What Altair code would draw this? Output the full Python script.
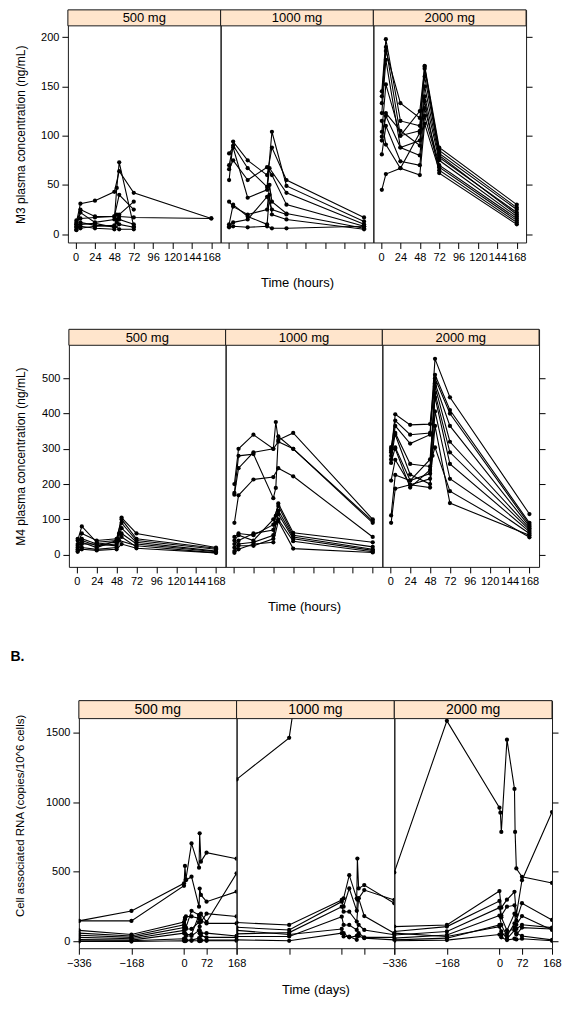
import altair as alt
import pandas as pd

FONT = "Liberation Sans"
INK = "#000000"
BOX = "#1a1a1a"
STRIP_FILL = "#FFE5CC"
DOSES = ["500 mg", "1000 mg", "2000 mg"]

# ---- time grids and ticks ----
PK_TIMES = [1, 6, 24, 48, 51, 54, 72, 168]
PK_TICKS = [0, 24, 48, 72, 96, 120, 144, 168]
RNA_TIMES = [-336, -168, 0, 3, 6, 24, 48, 50, 54, 72, 168]
RNA_TICKS = [-336, -168, 0, 72, 168]

M3_YTICKS = [0, 50, 100, 150, 200]
M4_YTICKS = [0, 100, 200, 300, 400, 500]
RNA_YTICKS = [0, 500, 1000, 1500]

# ---- M3 plasma concentration (ng/mL), one row per subject, on PK_TIMES ----
M3_500 = [
    [12, 31, 34, 43, None, 64, 42, 16],
    [8, 22, 12, 15, 47, 73, 8, None],
    [10, 25, 18, 18, None, 40, 25, None],
    [14, 16, 17, 18, 20, 18, 17, 16],
    [5, 8, 6, 5, None, 10, 7, None],
    [7, 12, 9, 8, 15, 20, 33, None],
    [10, 6, 8, 9, None, 5, 5, None],
    [4, 10, 11, 7, 12, 15, 10, None],
]
M3_1000 = [
    [55, 94, 75, 60, None, 88, 55, 17],
    [70, 90, 67, 48, None, 104, 49, 13],
    [82, 88, 37, 45, 67, None, 42, 10],
    [66, 75, 55, 68, None, 60, 30, 8],
    [33, 28, 20, 25, 50, 33, 21, 6],
    [10, 30, 18, 10, 40, 20, 15, 5],
    [8, 12, 15, 38, None, 25, 20, None],
    [7, 8, 7, 8, None, 6, 6, 8],
]
M3_2000 = [
    [145, 198, 115, 110, None, 171, 88, 30],
    [140, 190, 100, 105, None, 168, 85, 27],
    [133, 186, 133, 118, None, 160, 82, 25],
    [123, 177, 88, 95, None, 150, 78, 22],
    [104, 152, 100, 125, None, 170, 80, 20],
    [99, 123, 105, 90, None, 140, 75, 18],
    [95, 120, 88, 80, None, 128, 70, 16],
    [81, 110, 74, 70, None, 120, 68, 14],
    [115, 91, 67, 60, None, 112, 65, 12],
    [45, 61, 67, 103, None, 135, 62, 10],
]

# ---- M4 plasma concentration (ng/mL) ----
M4_500 = [
    [40, 80, 35, 40, None, 105, 60, 20],
    [30, 60, 40, 45, None, 100, 45, 18],
    [25, 45, 30, 35, 60, 90, 40, 15],
    [20, 40, 25, 30, None, 75, 35, 10],
    [15, 30, 30, 25, None, 60, 30, 8],
    [10, 20, 15, 20, 40, None, 25, 5],
    [8, 15, 12, 15, None, 30, 18, 5],
    [45, 35, 20, 40, None, 50, 22, None],
]
M4_1000 = [
    [200, 300, 340, 300, 376, 325, 345, 100],
    [175, 280, 285, 160, 189, 335, 300, 95],
    [170, 245, 290, 300, None, 320, 300, 90],
    [90, 168, 213, 220, None, 245, 222, 50],
    [50, 60, 55, 85, None, 145, 62, 35],
    [40, 55, 40, 100, None, 138, 55, 22],
    [30, 40, 60, 70, 110, 125, 50, 15],
    [20, 30, 35, 55, None, 115, 45, 12],
    [10, 25, 25, 45, 90, 100, 38, 8],
    [5, 15, 30, 35, None, 95, 17, 6],
]
M4_2000 = [
    [300, 380, 340, 345, None, 555, 446, 115],
    [290, 398, 368, 370, None, 510, 410, 90],
    [280, 365, 315, 340, None, 500, 400, 85],
    [270, 345, 257, 250, None, 486, 365, 80],
    [260, 304, 210, 230, None, 477, 320, 75],
    [210, 269, 198, 215, None, 458, 290, 70],
    [111, 226, 210, 270, None, 446, 257, 65],
    [90, 187, 198, 190, None, 406, 215, 60],
    [305, 340, 227, 200, None, 365, 146, 55],
    [295, 300, 190, 240, 280, 304, 180, 49],
]

# ---- Cell associated RNA (copies/10^6 cells), on RNA_TIMES ----
RNA_500 = [
    [148, 219, 418, None, 446, 704, 530, 776, 573, 637, 594],
    [148, 148, 400, 542, 440, 465, 250, 380, 334, 286, 358],
    [80, 50, 140, 170, 100, 220, 190, 170, 200, 140, 489],
    [60, 40, 120, 160, 180, 180, 167, 186, 140, 200, 180],
    [45, 30, 100, 110, 90, 90, 140, 107, 150, 130, 130],
    [30, 20, 80, 60, 50, 50, 190, 80, 60, 60, 40],
    [15, 10, 60, 20, 40, 40, 80, 59, 43, 30, 30],
    [5, 5, 20, 10, 10, 10, 24, 20, 10, 10, 10],
    [0, 0, 5, 2, 5, 5, 5, 3, 5, 5, 5],
]
RNA_1000 = [
    [1163, 1461, 4000, None, None, None, None, None, None, None, None],
    [136, 119, 298, None, 310, 476, 310, 595, 381, 405, 274],
    [102, 83, 286, None, 250, 381, 220, 300, 310, 369, 298],
    [55, 64, 250, None, 214, 214, 143, None, 310, 183, 60],
    [36, 36, 178, None, 119, 119, 83, None, 120, 83, 48],
    [12, 5, 60, None, 36, 36, 12, None, 40, 24, 12],
    [80, 50, 90, None, 60, 30, 40, None, 60, 30, 30],
]
RNA_2000 = [
    [496, 1583, 960, 924, 786, 1448, 1095, 786, 524, 464, 420],
    [107, 119, 362, None, 243, 300, 357, None, 190, 440, 929],
    [72, 107, 291, None, 186, 250, 260, None, 150, 275, 155],
    [47, 72, 243, None, 174, 80, 200, None, 120, 183, 83],
    [24, 47, 186, None, 119, 40, 130, None, 90, 120, 100],
    [12, 24, 119, None, 72, 20, 80, None, 60, 40, 12],
    [5, 10, 50, None, 30, 10, 20, None, 15, 20, 5],
    [60, 36, 107, None, 47, 60, 100, None, 50, 100, 90],
]


def to_frame(rows, times):
    recs = []
    for sid, row in enumerate(rows):
        for t, v in zip(times, row):
            if v is not None:
                recs.append({"subject": sid, "time": t, "value": v})
    return pd.DataFrame(recs)


def axis_common():
    return dict(domain=False, grid=False, tickSize=6, tickColor=INK, tickWidth=1,
                labelFont=FONT, labelFontSize=11, labelColor=INK, format="d",
                labelOverlap=False, labelFlush=False,
                titleFont=FONT, titleFontWeight="normal", titleColor=INK)


def panel(rows, times, dose, pos, spec):
    W, H, S = spec["w"], spec["h"], spec["strip"]
    df = to_frame(rows, times)
    c = axis_common()
    if pos == 0:
        xaxis = alt.Axis(values=spec["xticks"], labels=True, labelPadding=3, title="", **c)
        yaxis = alt.Axis(values=spec["yticks"], orient="left", labels=True, labelPadding=3,
                         title=spec["ytitle"], titleFontSize=spec["ytfs"],
                         titleX=spec["ytx"], titleY=spec["yty"], titleAngle=270,
                         titleBaseline="middle", titleAlign="center", **c)
    elif pos == 1:
        xaxis = alt.Axis(values=spec["xticks"], labels=False, title=spec["xtitle"],
                         titleFontSize=13, titleY=spec["xty"], titleBaseline="middle",
                         titleAlign="center", **c)
        yaxis = alt.Axis(values=spec["yticks"], labels=False, ticks=False, title="",
                         **{k: v for k, v in c.items() if k not in ("tickSize",)})
    else:
        xaxis = alt.Axis(values=spec["xticks"], labels=True, labelPadding=3, title="", **c)
        yaxis = alt.Axis(values=spec["yticks"], orient="right", labels=False, title="", **c)

    base = alt.Chart(df).encode(
        x=alt.X("time:Q", scale=alt.Scale(domain=spec["xdom"], nice=False, zero=False), axis=xaxis),
        y=alt.Y("value:Q", scale=alt.Scale(domain=spec["ydom"], nice=False, zero=False), axis=yaxis),
    )
    lines = base.mark_line(color=INK, strokeWidth=1.1, clip=True).encode(detail="subject:N")
    points = base.mark_circle(color=INK, size=18, opacity=1, clip=True)
    one = pd.DataFrame({"k": [0]})
    strip = alt.Chart(one).mark_rect(fill=STRIP_FILL, fillOpacity=1, opacity=1,
                                     stroke=BOX, strokeWidth=1).encode(
        x=alt.value(0), x2=alt.value(W), y=alt.value(0), y2=alt.value(S))
    label = alt.Chart(one).mark_text(font=FONT, fontSize=spec["sfs"], color=INK,
                                     baseline="middle", align="center").encode(
        x=alt.value(W / 2), y=alt.value(S / 2 + 0.5), text=alt.value(dose))
    return alt.layer(lines, points, strip, label).properties(width=W, height=H)


def spacer(w):
    return alt.Chart(pd.DataFrame({"k": [0]})).mark_point(opacity=0).encode(
        x=alt.value(0), y=alt.value(0)
    ).properties(width=w, height=10, view=alt.ViewBackground(stroke="transparent"))


M3_SPEC = dict(w=153, h=233, strip=16, xdom=[-9.5, 179.5], ydom=[-8.4, 227.7],
               xticks=PK_TICKS, yticks=M3_YTICKS, ytitle="M3 plasma concentration (ng/mL)",
               ytfs=12, ytx=-47, yty=124.6, xtitle="Time (hours)", xty=40, sfs=13)
M4_SPEC = dict(w=157, h=238, strip=16, xdom=[-9.6, 179.6], ydom=[-34.8, 638.8],
               xticks=PK_TICKS, yticks=M4_YTICKS, ytitle="M4 plasma concentration (ng/mL)",
               ytfs=12, ytx=-48, yty=127, xtitle="Time (hours)", xty=40, sfs=13)
RNA_SPEC = dict(w=158, h=248, strip=18, xdom=[-336, 168], ydom=[-48, 1728],
                xticks=RNA_TICKS, yticks=RNA_YTICKS,
                ytitle="Cell associated RNA (copies/10^6 cells)",
                ytfs=11.5, ytx=-58, yty=115, xtitle="Time (days)", xty=41.7, sfs=14)

row1 = alt.hconcat(*[panel(r, PK_TIMES, d, i, M3_SPEC)
                     for i, (r, d) in enumerate(zip([M3_500, M3_1000, M3_2000], DOSES))],
                   spacing=0, bounds="flush")
row2 = alt.hconcat(spacer(1), *[panel(r, PK_TIMES, d, i, M4_SPEC)
                                 for i, (r, d) in enumerate(zip([M4_500, M4_1000, M4_2000], DOSES))],
                   spacing=0, bounds="flush")
row3 = alt.hconcat(spacer(11), *[panel(r, RNA_TIMES, d, i, RNA_SPEC)
                                  for i, (r, d) in enumerate(zip([RNA_500, RNA_1000, RNA_2000], DOSES))],
                   spacing=0, bounds="flush").properties(
    title=alt.TitleParams(text="B.", anchor="start", font=FONT, fontSize=14, fontWeight="bold",
                          color=INK, offset=33, dx=-4))

chart = alt.vconcat(row1, row2, row3, spacing=35).properties(
    padding={"top": 0, "left": 2, "right": 5, "bottom": 5}
).configure(font=FONT, background="white").configure_view(stroke=BOX, strokeWidth=1)

chart.save("out.html", embed_options={"renderer": "svg", "actions": False})
